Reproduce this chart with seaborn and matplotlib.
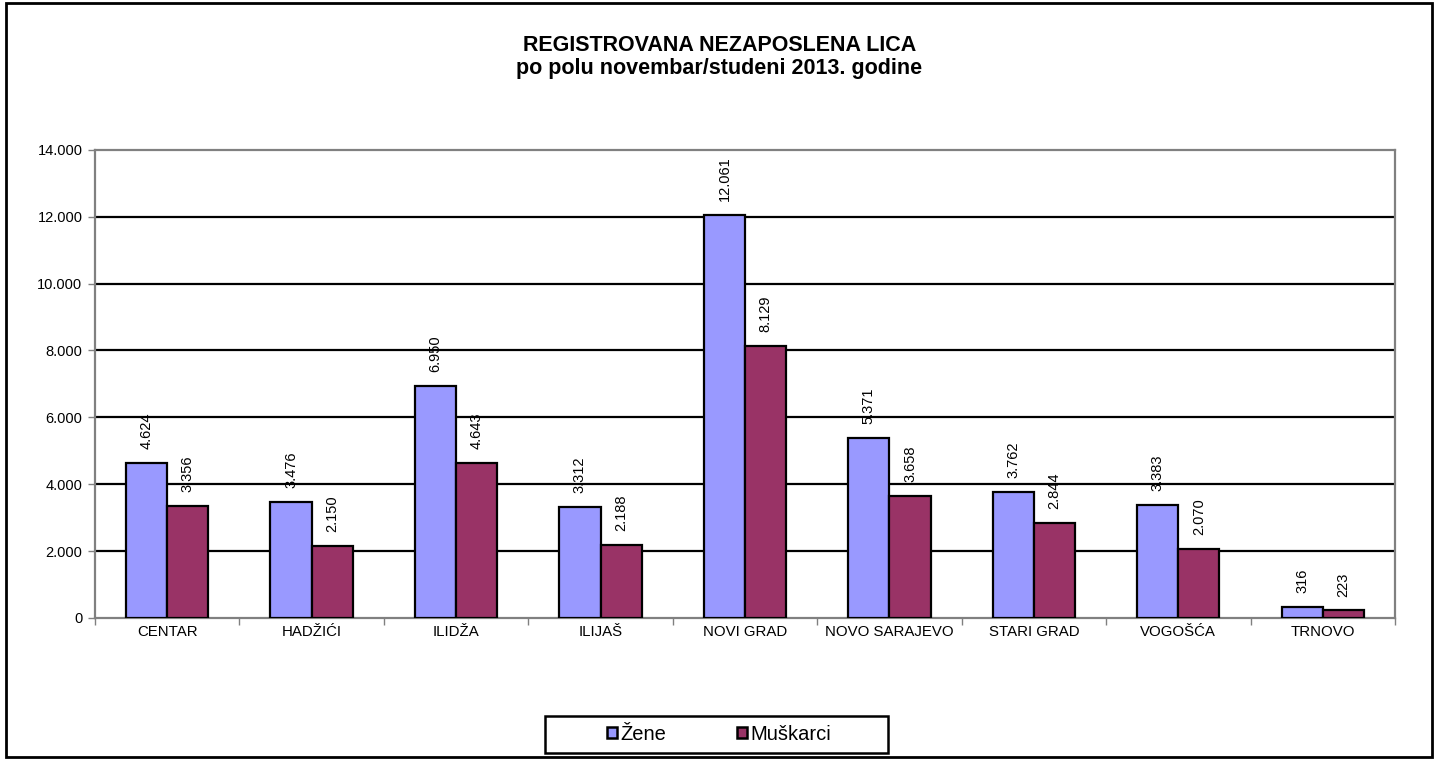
import matplotlib
matplotlib.use("Agg")
import matplotlib.pyplot as plt
from matplotlib.patches import Rectangle, Patch
from matplotlib.ticker import FuncFormatter, FixedLocator
import seaborn as sns
import pandas as pd

opstine = ["CENTAR", "HADŽIĆI", "ILIDŽA", "ILIJAŠ", "NOVI GRAD",
           "NOVO SARAJEVO", "STARI GRAD", "VOGOŠĆA", "TRNOVO"]
zene = [4624, 3476, 6950, 3312, 12061, 5371, 3762, 3383, 316]
muskarci = [3356, 2150, 4643, 2188, 8129, 3658, 2844, 2070, 223]
serije = ["Žene", "Muškarci"]
boje = ["#9999FF", "#993366"]

df = pd.DataFrame({
    "opstina": opstine * 2,
    "broj": zene + muskarci,
    "pol": [serije[0]] * len(opstine) + [serije[1]] * len(opstine),
})


def tacka(v):
    return f"{int(round(v)):,}".replace(",", ".")


sns.set_style("white")
plt.rcParams["font.family"] = ["Liberation Sans", "DejaVu Sans"]
plt.rcParams["text.color"] = "black"
plt.rcParams["xtick.labelcolor"] = "black"
plt.rcParams["ytick.labelcolor"] = "black"

fig = plt.figure(figsize=(14.39, 7.6), dpi=100)
ax = fig.add_axes([0.066, 0.187, 0.9034, 0.6157])

sns.barplot(data=df, x="opstina", y="broj", hue="pol", palette=boje,
            width=0.57, edgecolor="black", linewidth=1.6, saturation=1,
            ax=ax, zorder=3)
ax.get_legend().remove()

for cont in ax.containers:
    ax.bar_label(cont, labels=[tacka(v) for v in cont.datavalues],
                 rotation=90, padding=10, fontsize=10.5, color="black")

ax.set_ylim(0, 14000)
ax.set_xlim(-0.5, len(opstine) - 0.5)
ax.set_yticks(range(0, 14001, 2000))
ax.yaxis.set_major_formatter(FuncFormatter(lambda v, p: tacka(v)))
for y in range(2000, 14000, 2000):
    ax.axhline(y, color="black", lw=1.6, zorder=1)

ax.set_xlabel("")
ax.set_ylabel("")
ax.tick_params(axis="y", direction="out", length=5, width=1, color="gray",
               labelsize=10.5, left=True, pad=4, labelcolor="black")
ax.tick_params(axis="x", which="major", length=0, labelsize=10.8, pad=5,
               labelcolor="black")
ax.xaxis.set_minor_locator(FixedLocator([i - 0.5 for i in range(len(opstine) + 1)]))
ax.tick_params(axis="x", which="minor", direction="out", length=5, width=1,
               color="gray", bottom=True)
for s in ax.spines.values():
    s.set_color("gray")
    s.set_linewidth(1.6)

fig.text(0.5, 0.925, "REGISTROVANA NEZAPOSLENA LICA\npo polu novembar/studeni 2013. godine",
         ha="center", va="center", fontsize=15.5, fontweight="bold",
         linespacing=1.15, color="black")

handles = [Patch(facecolor=c, edgecolor="black", lw=1.8) for c in boje]
leg = fig.legend(handles, serije, loc="center", bbox_to_anchor=(0.4997, 0.034),
                 ncol=2, fontsize=14.5, frameon=False, handlelength=0.5,
                 handleheight=0.5, handletextpad=0.15, columnspacing=3.5)

# legend frame
fig.patches.append(Rectangle((0.3787, 0.0092), 0.2384, 0.0487, transform=fig.transFigure,
                             fill=False, edgecolor="black", lw=1.8))
# outer border
fig.patches.append(Rectangle((0.004, 0.004), 0.991, 0.992, transform=fig.transFigure,
                             fill=False, edgecolor="black", lw=2))

fig.savefig("out.png", dpi=100)
